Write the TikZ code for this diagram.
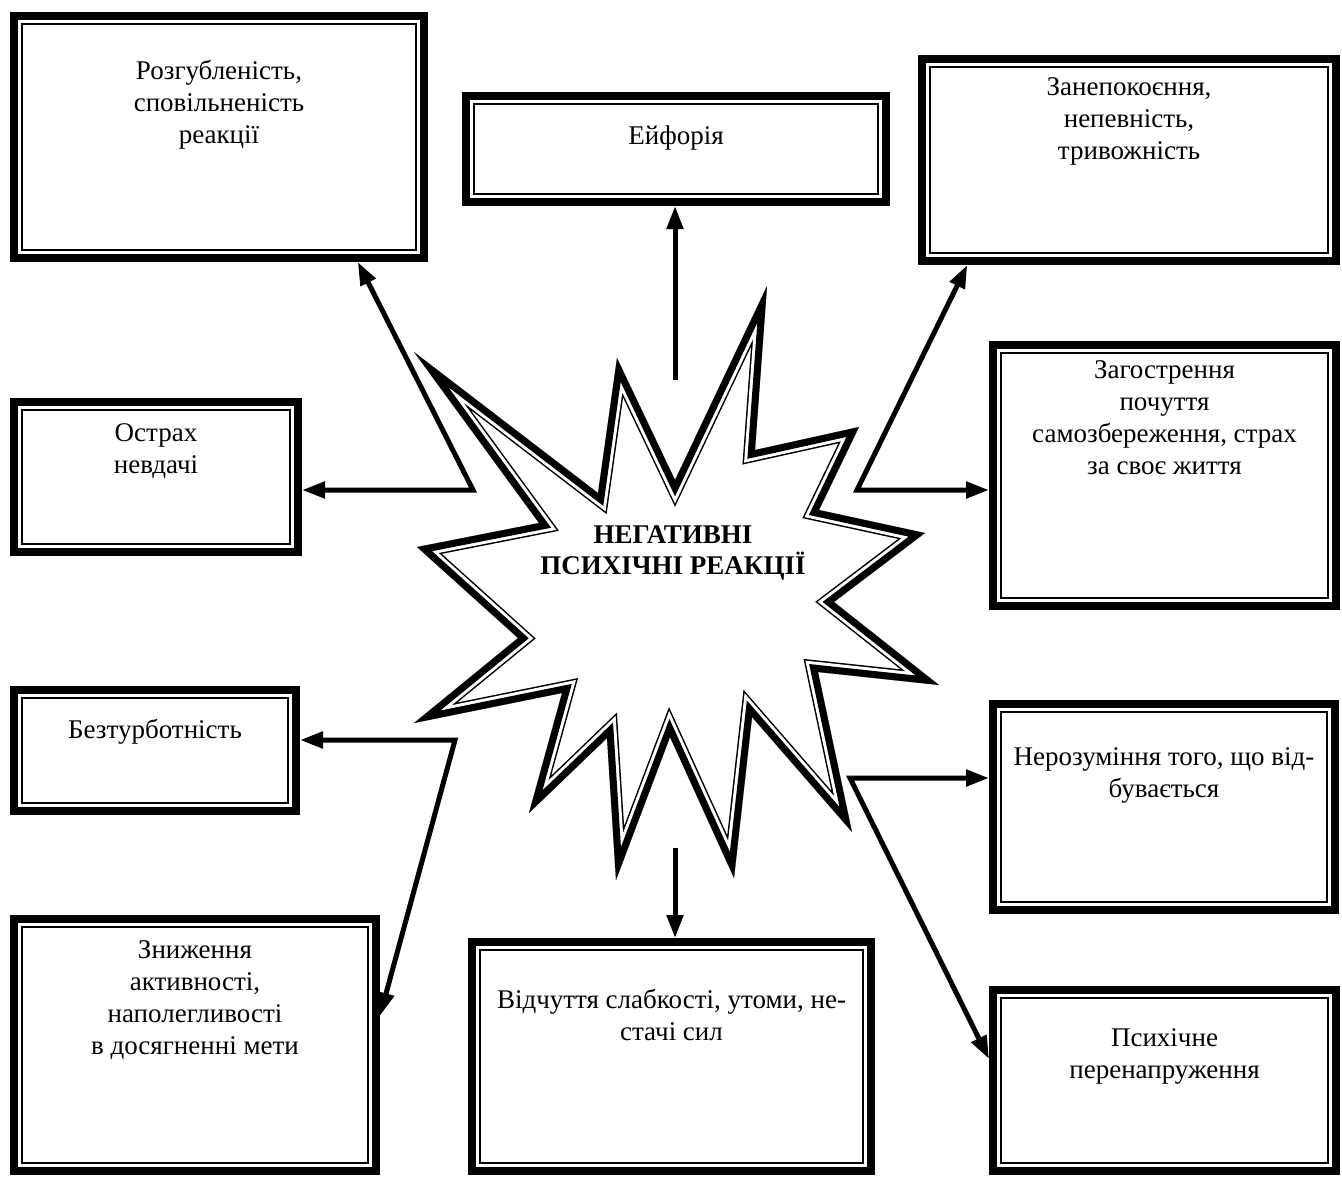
\documentclass[tikz,border=0pt]{standalone}
\usepackage{fontspec}
\setmainfont{Liberation Serif}
\usetikzlibrary{positioning, arrows.meta}
\tikzset{
	x=0.5pt, y=-0.5pt, % one unit = one pixel of the sketch, y grows downwards
	reactbox/.style={draw, line width=1pt, inner sep=0pt, outer sep=6pt}, % thin inner line of a frame
	boxtext/.style={align=center, inner sep=0pt, outer sep=0pt, font=\fontsize{13.5}{16}\selectfont},
	reactarrow/.style={line width=2.5pt, -{Triangle[length=11.5pt,width=8pt]}},
	twoarrow/.style={line width=2.5pt, line join=miter, {Triangle[length=11.5pt,width=8pt]}-{Triangle[length=11.5pt,width=8pt]}},
}

\begin{document}
\begin{tikzpicture}
	\useasboundingbox (0,0) rectangle (1342,1180);

	% the star
	\def\starpath{(767,286) -- (755,450) -- (859,427) -- (819,510) -- (925,533) -- (834,602)
		-- (939,685) -- (818,672) -- (852,832) -- (752,717) -- (734,878) -- (670,737)
		-- (616,880) -- (607,738) -- (529,813) -- (562,693) -- (414,723) -- (518,638)
		-- (417,547) -- (539,523) -- (414,352) -- (598,493) -- (617,358) -- (675,480) -- cycle}
	\begin{scope}
		\clip \starpath;
		\draw[line width=11.5pt] \starpath;
		\draw[line width=10pt, white] \starpath;
		\draw[line width=7pt] \starpath;
	\end{scope}
	\node[align=center, font=\fontsize{13.5}{15.5}\selectfont\bfseries] (title) at (673,553) {НЕГАТИВНІ\\ПСИХІЧНІ РЕАКЦІЇ};

	% frames
	\node[reactbox, minimum width=197pt, minimum height=113pt] (rozg) at (219,137) {};
	\node[reactbox, minimum width=202pt, minimum height=45pt] (eufo) at (676,149) {};
	\node[reactbox, minimum width=199pt, minimum height=93pt] (zanep) at (1129,160) {};
	\node[reactbox, minimum width=134pt, minimum height=67pt] (ostr) at (156,477) {};
	\node[reactbox, minimum width=163.5pt, minimum height=122.5pt] (zagos) at (1164.5,475.5) {};
	\node[reactbox, minimum width=133pt, minimum height=52.5pt] (bezt) at (155,750.5) {};
	\node[reactbox, minimum width=163pt, minimum height=95pt] (neroz) at (1164,807) {};
	\node[reactbox, minimum width=173pt, minimum height=118pt] (znyzh) at (195,1045) {};
	\node[reactbox, minimum width=191.5pt, minimum height=106.5pt] (vidch) at (671.5,1056.5) {};
	\node[reactbox, minimum width=163.5pt, minimum height=82.5pt] (psyh) at (1164.5,1080.5) {};
	\foreach \n in {rozg,eufo,zanep,ostr,zagos,bezt,neroz,znyzh,vidch,psyh}
		\draw[line width=4pt] ([shift={(2pt,-2pt)}]\n.north west) rectangle ([shift={(-2pt,2pt)}]\n.south east);

	% texts
	\node[boxtext, below=24pt of rozg.north] (rozgt) {Розгубленість,\\сповільненість\\реакції};
	\node[boxtext, below=17pt of eufo.north] (eufot) {Ейфорія};
	\node[boxtext, below=11.5pt of zanep.north] (zanept) {Занепокоєння,\\непевність,\\тривожність};
	\node[boxtext, below=13pt of ostr.north] (ostrt) {Острах\\невдачі};
	\node[boxtext, below=10pt of zagos.north] (zagost) {Загострення\\почуття\\самозбереження, страх\\за своє життя};
	\node[boxtext, below=16.5pt of bezt.north] (beztt) {Безтурботність};
	\node[boxtext, below=24pt of neroz.north] (nerozt) {Нерозуміння того, що від-\\бувається};
	\node[boxtext, below=13pt of znyzh.north] (znyzht) {Зниження\\активності,\\наполегливості\\в досягненні мети};
	\node[boxtext, below=25.5pt of vidch.north] (vidcht) {Відчуття слабкості, утоми, не-\\стачі сил};
	\node[boxtext, below=21.5pt of psyh.north] (psyht) {Психічне\\перенапруження};

	% connectors
	\coordinate (jt) at (675,380);
	\coordinate (jl) at (473,490);
	\coordinate (jr) at (857,490);
	\coordinate (jbl) at (455,740);
	\coordinate (jbr) at (850,778);
	\coordinate (jb) at (675,848);
	\draw[reactarrow] (jt) -- (jt |- eufo.south);
	\draw[twoarrow] (rozg.-42) -- (jl) -- (jl -| ostr.east);
	\draw[twoarrow] (zanep.-147) -- (jr) -- (jr -| zagos.west);
	\draw[twoarrow] (jbl -| bezt.east) -- (jbl) -- (znyzh.9);
	\draw[twoarrow] (jbr -| neroz.west) -- (jbr) -- (psyh.173);
	\draw[reactarrow] (jb) -- (jb |- vidch.north);
\end{tikzpicture}
\end{document}
